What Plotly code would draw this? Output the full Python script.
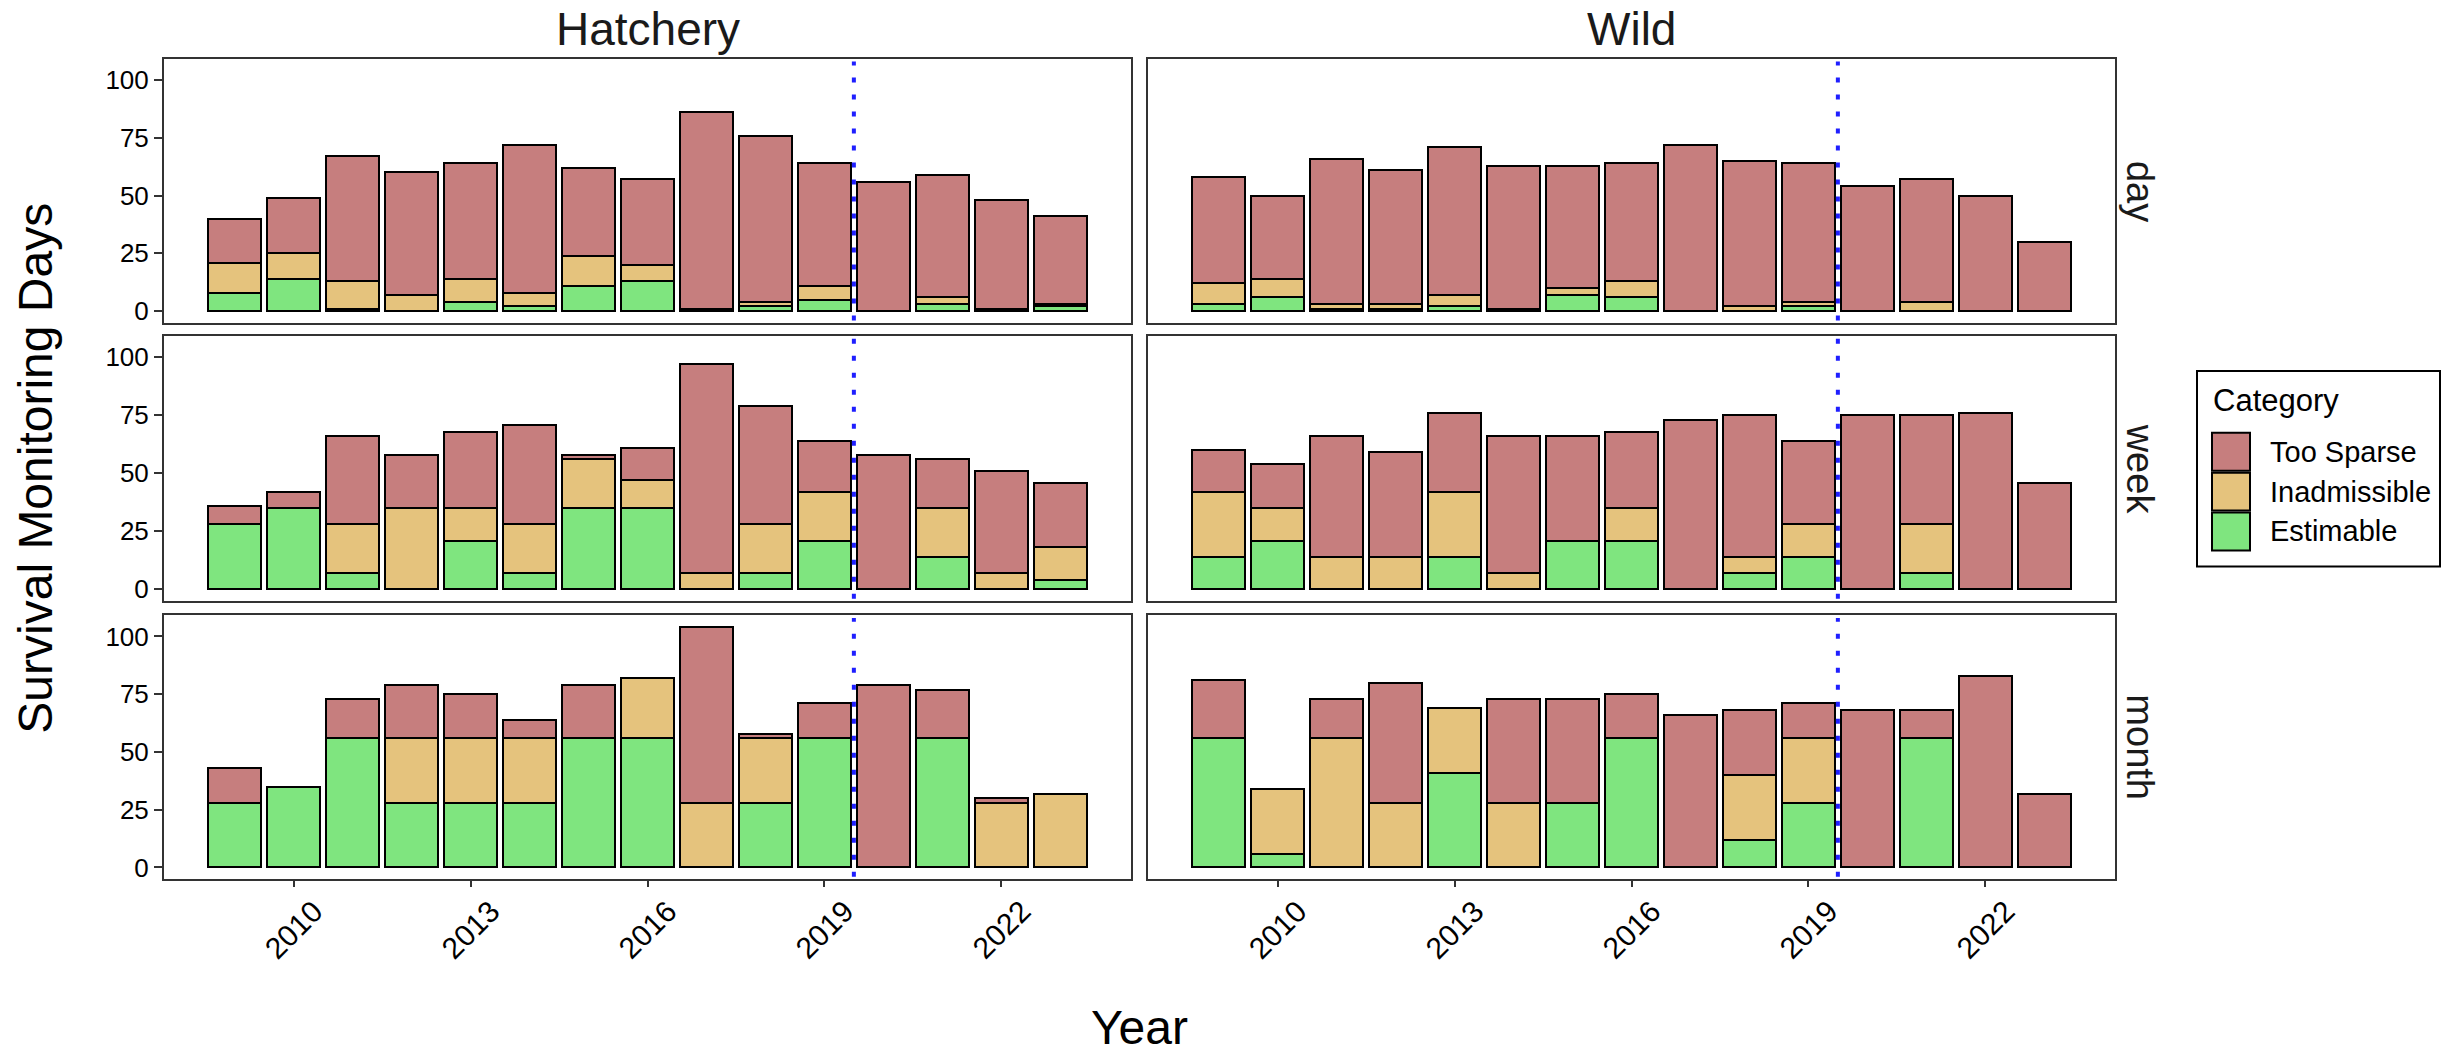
import plotly.graph_objects as go

# ---- data -------------------------------------------------------------
years = list(range(2009, 2024))
categories = ["Estimable", "Inadmissible", "Too Sparse"]   # stacking order, bottom to top
legend_order = ["Too Sparse", "Inadmissible", "Estimable"]
origins = ["Hatchery", "Wild"]
resolutions = ["day", "week", "month"]
year_ticks = [2010, 2013, 2016, 2019, 2022]
y_ticks = [0, 25, 50, 75, 100]
cutoff_year = 2019.5

hatchery_day_estimable = [8, 14, 1, 0, 4, 2, 11, 13, 1, 2, 5, 0, 3, 1, 2]
hatchery_day_inadmissible = [13, 11, 12, 7, 10, 6, 13, 7, 0, 2, 6, 0, 3, 0, 1]
hatchery_day_too_sparse = [19, 24, 54, 53, 50, 64, 38, 37, 85, 72, 53, 56, 53, 47, 38]

wild_day_estimable = [3, 6, 1, 1, 2, 1, 7, 6, 0, 0, 2, 0, 0, 0, 0]
wild_day_inadmissible = [9, 8, 2, 2, 5, 0, 3, 7, 0, 2, 2, 0, 4, 0, 0]
wild_day_too_sparse = [46, 36, 63, 58, 64, 62, 53, 51, 72, 63, 60, 54, 53, 50, 30]

hatchery_week_estimable = [28, 35, 7, 0, 21, 7, 35, 35, 0, 7, 21, 0, 14, 0, 4]
hatchery_week_inadmissible = [0, 0, 21, 35, 14, 21, 21, 12, 7, 21, 21, 0, 21, 7, 14]
hatchery_week_too_sparse = [8, 7, 38, 23, 33, 43, 2, 14, 90, 51, 22, 58, 21, 44, 28]

wild_week_estimable = [14, 21, 0, 0, 14, 0, 21, 21, 0, 7, 14, 0, 7, 0, 0]
wild_week_inadmissible = [28, 14, 14, 14, 28, 7, 0, 14, 0, 7, 14, 0, 21, 0, 0]
wild_week_too_sparse = [18, 19, 52, 45, 34, 59, 45, 33, 73, 61, 36, 75, 47, 76, 46]

hatchery_month_estimable = [28, 35, 56, 28, 28, 28, 56, 56, 0, 28, 56, 0, 56, 0, 0]
hatchery_month_inadmissible = [0, 0, 0, 28, 28, 28, 0, 26, 28, 28, 0, 0, 0, 28, 32]
hatchery_month_too_sparse = [15, 0, 17, 23, 19, 8, 23, 0, 76, 2, 15, 79, 21, 2, 0]

wild_month_estimable = [56, 6, 0, 0, 41, 0, 28, 56, 0, 12, 28, 0, 56, 0, 0]
wild_month_inadmissible = [0, 28, 56, 28, 28, 28, 0, 0, 0, 28, 28, 0, 0, 0, 0]
wild_month_too_sparse = [25, 0, 17, 52, 0, 45, 45, 19, 66, 28, 15, 68, 12, 83, 32]

panels = {
    ("day", "Hatchery"): [hatchery_day_estimable, hatchery_day_inadmissible, hatchery_day_too_sparse],
    ("day", "Wild"): [wild_day_estimable, wild_day_inadmissible, wild_day_too_sparse],
    ("week", "Hatchery"): [hatchery_week_estimable, hatchery_week_inadmissible, hatchery_week_too_sparse],
    ("week", "Wild"): [wild_week_estimable, wild_week_inadmissible, wild_week_too_sparse],
    ("month", "Hatchery"): [hatchery_month_estimable, hatchery_month_inadmissible, hatchery_month_too_sparse],
    ("month", "Wild"): [wild_month_estimable, wild_month_inadmissible, wild_month_too_sparse],
}

colors = {"Too Sparse": "#C67E7E", "Inadmissible": "#E5C37D", "Estimable": "#7FE57F"}

# ---- page geometry (pixels) --------------------------------------------
W, H = 2453, 1057
FONT = "Liberation Sans, Arial, sans-serif"
col_px = [(164, 1131), (1148, 2115)]
row_px = [(59, 324), (337, 603), (617, 882)]


def px_x(v):
    return v / W


def px_y(v):
    return 1 - v / H


fig = go.Figure()
layout = dict(
    width=W, height=H, autosize=False,
    margin=dict(l=0, r=0, t=0, b=0),
    paper_bgcolor="white", plot_bgcolor="white",
    barmode="stack", showlegend=False,
    font=dict(family=FONT, color="black"),
)
annotations = []
shapes = []

for r, res in enumerate(resolutions):
    for c, origin in enumerate(origins):
        i = r * 2 + c + 1
        xname = "x" if i == 1 else f"x{i}"
        yname = "y" if i == 1 else f"y{i}"
        bottom = r == len(resolutions) - 1
        left = c == 0

        for cat, vals in zip(categories, panels[(res, origin)]):
            fig.add_trace(go.Bar(
                x=years, y=vals, name=cat, width=0.9,
                marker=dict(color=colors[cat], line=dict(color="black", width=2)),
                xaxis=xname, yaxis=yname,
                hovertemplate=f"{origin} / {res}<br>%{{x}}<br>{cat}: %{{y}}<extra></extra>",
            ))

        layout["xaxis" if i == 1 else f"xaxis{i}"] = dict(
            domain=[px_x(col_px[c][0]), px_x(col_px[c][1])],
            anchor=yname, range=[2007.8, 2024.2],
            showgrid=False, zeroline=False,
            showline=True, mirror=True, linecolor="#333333", linewidth=2,
            tickvals=year_ticks, showticklabels=False,
            ticks="outside" if bottom else "", ticklen=6, tickwidth=2, tickcolor="#333333",
        )
        layout["yaxis" if i == 1 else f"yaxis{i}"] = dict(
            domain=[px_y(row_px[r][1]), px_y(row_px[r][0])],
            anchor=xname, range=[-5.2, 109.2],
            showgrid=False, zeroline=False,
            showline=True, mirror=True, linecolor="#333333", linewidth=2,
            tickvals=y_ticks, showticklabels=left,
            ticks="outside" if left else "", ticklen=8, tickwidth=2, tickcolor="#333333",
            tickfont=dict(size=26, color="black", family=FONT),
        )

        # release cutoff marker
        shapes.append(dict(
            type="line", xref=xname, yref=f"{yname} domain",
            x0=cutoff_year, x1=cutoff_year, y0=0.01, y1=0.99,
            line=dict(color="#1F1FFF", width=4, dash="5px,12px"),
            layer="above",
        ))

        if bottom:
            for yr in year_ticks:
                annotations.append(dict(
                    x=yr, xref=xname, y=px_y(932), yref="paper",
                    text=str(yr), showarrow=False, textangle=-45,
                    xanchor="center", yanchor="middle",
                    font=dict(size=30, color="black", family=FONT),
                ))

# facet strips
for c, origin in enumerate(origins):
    annotations.append(dict(
        x=px_x((col_px[c][0] + col_px[c][1]) / 2), xref="paper",
        y=px_y(29), yref="paper", text=origin, showarrow=False,
        xanchor="center", yanchor="middle",
        font=dict(size=46, color="#1A1A1A", family=FONT),
    ))
for r, res in enumerate(resolutions):
    annotations.append(dict(
        x=px_x(2140), xref="paper",
        y=px_y((row_px[r][0] + row_px[r][1]) / 2), yref="paper",
        text=res, showarrow=False, textangle=90,
        xanchor="center", yanchor="middle",
        font=dict(size=38, color="#1A1A1A", family=FONT),
    ))

# axis titles
annotations.append(dict(
    x=px_x(1139), xref="paper", y=px_y(1030), yref="paper",
    text="Year", showarrow=False, xanchor="center", yanchor="middle",
    font=dict(size=48, color="black", family=FONT),
))
annotations.append(dict(
    x=px_x(36), xref="paper", y=px_y(470), yref="paper",
    text="Survival Monitoring Days", showarrow=False, textangle=-90,
    xanchor="center", yanchor="middle",
    font=dict(size=48, color="black", family=FONT),
))

# legend box
shapes.append(dict(
    type="rect", xref="paper", yref="paper",
    x0=px_x(2197), x1=px_x(2440), y0=px_y(568), y1=px_y(372),
    line=dict(color="black", width=2), fillcolor="white", layer="below",
))
annotations.append(dict(
    x=px_x(2211), xref="paper", y=px_y(402), yref="paper",
    text="Category", showarrow=False, xanchor="left", yanchor="middle",
    font=dict(size=31, color="black", family=FONT),
))
for k, cat in enumerate(legend_order):
    top = 434 + k * 40
    shapes.append(dict(
        type="rect", xref="paper", yref="paper",
        x0=px_x(2212), x1=px_x(2250), y0=px_y(top + 38), y1=px_y(top),
        line=dict(color="black", width=2), fillcolor=colors[cat],
    ))
    annotations.append(dict(
        x=px_x(2268), xref="paper", y=px_y(top + 19), yref="paper",
        text=cat, showarrow=False, xanchor="left", yanchor="middle",
        font=dict(size=29, color="black", family=FONT),
    ))

layout["annotations"] = annotations
layout["shapes"] = shapes
fig.update_layout(**layout)

fig.write_html("out.html", config={"displayModeBar": False})
